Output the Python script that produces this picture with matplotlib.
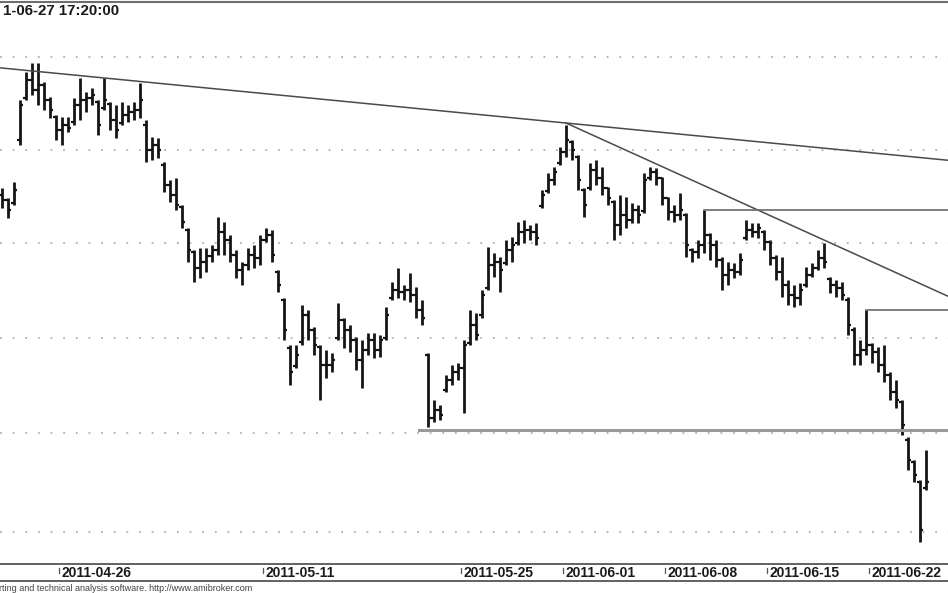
import matplotlib
matplotlib.use("Agg")
import matplotlib.pyplot as plt
from matplotlib.lines import Line2D

# bar data (price units, index = bar number)
opens = [4.05, 4.00, 3.97, 4.60, 5.02, 5.20, 5.10, 5.15, 5.00, 4.83,
         4.70, 4.75, 4.78, 4.95, 5.00, 5.02, 4.98, 4.92, 4.96, 4.80,
         4.77, 4.85, 4.88, 4.90, 4.75, 4.50, 4.55, 4.35, 4.15, 4.05,
         3.93, 3.70, 3.48, 3.32, 3.38, 3.44, 3.50, 3.68, 3.60, 3.45,
         3.30, 3.35, 3.45, 3.42, 3.60, 3.65, 3.28, 3.00, 2.52, 2.34,
         2.58, 2.85, 2.70, 2.53, 2.35, 2.35, 2.62, 2.80, 2.70, 2.60,
         2.40, 2.50, 2.60, 2.50, 2.62, 3.02, 3.10, 3.08, 3.10, 3.05,
         2.90, 2.45, 1.82, 1.90, 2.10, 2.20, 2.28, 2.32, 2.57, 2.75,
         2.85, 3.12, 3.35, 3.38, 3.37, 3.50, 3.57, 3.68, 3.70, 3.68,
         3.94, 4.09, 4.20, 4.37, 4.48, 4.58, 4.43, 4.10, 4.12, 4.30,
         4.22, 4.12, 3.98, 3.75, 3.85, 3.80, 3.90, 3.89, 4.22, 4.28,
         4.22, 4.02, 3.88, 3.85, 3.85, 3.50, 3.48, 3.55, 3.65, 3.55,
         3.40, 3.25, 3.30, 3.28, 3.62, 3.70, 3.68, 3.68, 3.58, 3.42,
         3.28, 3.15, 3.05, 3.02, 3.15, 3.25, 3.32, 3.42, 3.21, 3.15,
         3.12, 3.00, 2.70, 2.45, 2.50, 2.55, 2.48, 2.35, 2.25, 2.08,
         1.98, 1.60, 1.38, 1.18, 1.12]
highs = [4.12, 4.02, 4.18, 5.00, 5.28, 5.37, 5.37, 5.18, 5.03, 4.85,
         4.83, 4.83, 5.02, 5.22, 5.08, 5.12, 5.00, 5.22, 4.98, 4.95,
         4.98, 4.95, 4.98, 5.17, 4.80, 4.63, 4.62, 4.38, 4.20, 4.22,
         3.95, 3.72, 3.50, 3.52, 3.52, 3.55, 3.83, 3.78, 3.65, 3.50,
         3.38, 3.52, 3.55, 3.65, 3.72, 3.70, 3.30, 3.02, 2.55, 2.55,
         2.95, 2.90, 2.73, 2.55, 2.50, 2.47, 2.97, 2.82, 2.75, 2.63,
         2.60, 2.67, 2.67, 2.65, 2.93, 3.18, 3.32, 3.15, 3.27, 3.13,
         3.00, 2.47, 2.00, 1.95, 2.25, 2.35, 2.37, 2.60, 2.90, 2.87,
         3.10, 3.53, 3.47, 3.43, 3.60, 3.63, 3.78, 3.80, 3.75, 3.77,
         4.10, 4.27, 4.33, 4.53, 4.75, 4.60, 4.45, 4.12, 4.37, 4.40,
         4.33, 4.13, 4.00, 4.05, 4.03, 3.97, 3.95, 4.27, 4.33, 4.32,
         4.23, 4.03, 3.95, 4.07, 3.87, 3.52, 3.60, 3.90, 3.67, 3.60,
         3.43, 3.38, 3.37, 3.47, 3.80, 3.77, 3.77, 3.70, 3.60, 3.45,
         3.43, 3.20, 3.15, 3.17, 3.33, 3.37, 3.50, 3.57, 3.23, 3.20,
         3.18, 3.03, 2.73, 2.60, 2.90, 2.57, 2.53, 2.55, 2.28, 2.20,
         2.00, 1.63, 1.40, 1.20, 1.50]
lows = [3.92, 3.82, 3.95, 4.55, 5.00, 5.05, 4.95, 4.90, 4.82, 4.60,
        4.55, 4.68, 4.75, 4.80, 4.88, 4.95, 4.65, 4.90, 4.70, 4.62,
        4.75, 4.78, 4.80, 4.82, 4.38, 4.40, 4.42, 4.08, 3.98, 3.90,
        3.72, 3.38, 3.18, 3.22, 3.28, 3.38, 3.45, 3.45, 3.38, 3.22,
        3.15, 3.30, 3.32, 3.35, 3.58, 3.38, 3.08, 2.60, 2.15, 2.32,
        2.55, 2.60, 2.45, 2.00, 2.22, 2.28, 2.60, 2.52, 2.48, 2.30,
        2.12, 2.45, 2.42, 2.43, 2.60, 3.00, 3.02, 3.00, 2.98, 2.82,
        2.75, 1.73, 1.78, 1.80, 2.08, 2.15, 2.20, 1.87, 2.55, 2.60,
        2.82, 3.10, 3.23, 3.08, 3.35, 3.38, 3.55, 3.57, 3.60, 3.55,
        3.92, 4.07, 4.15, 4.35, 4.43, 4.40, 4.10, 3.83, 4.10, 4.15,
        4.05, 3.95, 3.60, 3.65, 3.72, 3.77, 3.77, 3.87, 4.20, 4.15,
        3.95, 3.80, 3.78, 3.80, 3.43, 3.38, 3.42, 3.47, 3.40, 3.33,
        3.10, 3.15, 3.22, 3.25, 3.60, 3.63, 3.62, 3.50, 3.35, 3.20,
        3.03, 2.95, 2.93, 2.95, 3.13, 3.23, 3.30, 3.32, 3.07, 3.03,
        3.00, 2.65, 2.35, 2.35, 2.45, 2.37, 2.28, 2.18, 2.00, 1.92,
        1.65, 1.30, 1.18, 0.58, 1.10]
closes = [4.00, 3.90, 4.10, 4.95, 5.20, 5.10, 5.15, 5.00, 4.90, 4.70,
          4.75, 4.72, 4.95, 5.00, 5.02, 5.05, 4.75, 5.00, 4.80, 4.70,
          4.85, 4.88, 4.90, 5.00, 4.50, 4.55, 4.50, 4.15, 4.05, 3.95,
          3.78, 3.50, 3.32, 3.38, 3.44, 3.50, 3.68, 3.60, 3.45, 3.30,
          3.35, 3.45, 3.42, 3.60, 3.65, 3.45, 3.15, 2.70, 2.28, 2.45,
          2.85, 2.70, 2.55, 2.35, 2.35, 2.40, 2.80, 2.70, 2.60, 2.40,
          2.50, 2.60, 2.50, 2.60, 2.85, 3.10, 3.08, 3.10, 3.05, 2.90,
          2.82, 1.82, 1.90, 1.85, 2.20, 2.28, 2.32, 2.55, 2.75, 2.65,
          3.05, 3.35, 3.38, 3.30, 3.50, 3.55, 3.68, 3.70, 3.68, 3.62,
          4.05, 4.20, 4.28, 4.48, 4.60, 4.50, 4.20, 3.95, 4.30, 4.22,
          4.12, 4.02, 3.75, 3.85, 3.80, 3.90, 3.85, 4.20, 4.28, 4.22,
          4.02, 3.88, 3.85, 3.90, 3.55, 3.48, 3.55, 3.65, 3.55, 3.40,
          3.25, 3.30, 3.28, 3.40, 3.70, 3.68, 3.72, 3.58, 3.42, 3.28,
          3.15, 3.05, 3.02, 3.10, 3.25, 3.32, 3.42, 3.38, 3.15, 3.12,
          3.05, 2.75, 2.45, 2.50, 2.55, 2.48, 2.35, 2.25, 2.08, 2.00,
          1.75, 1.40, 1.25, 0.70, 1.18]

grid_levels = [5.43, 4.50, 3.57, 2.62, 1.67, 0.68]
date_labels = ["2011-04-26", "2011-05-11", "2011-05-25", "2011-06-01",
               "2011-06-08", "2011-06-15", "2011-06-22"]
date_bars = [10, 44, 77, 94, 111, 128, 145]

# trend lines: (start bar, start price, end bar, end price)
trend_lines = [(0, 5.32, 94, 4.77), (94, 4.77, 137, 3.60)]
# horizontal levels: (start bar, price)
levels = [(117, 3.90), (144, 2.90), (69.5, 1.70)]

fig = plt.figure(figsize=(9.48, 5.93), dpi=100)
ax = fig.add_axes([0, 0.0489, 1, 0.9477])
x_left, x_right = -0.33, 157.67
ax.set_xlim(x_left, x_right)
ax.set_ylim(0.36, 5.98)
ax.set_xticks([])
ax.set_yticks([])
for s in ["left", "right"]:
    ax.spines[s].set_visible(False)
ax.spines["top"].set_color("#6e6e6e")
ax.spines["top"].set_linewidth(1.5)
ax.spines["bottom"].set_color("#555555")
ax.spines["bottom"].set_linewidth(1.3)

for g in grid_levels:
    ax.axhline(g, color="#b0b0b0", lw=1.3, ls=(0, (1, 6)), zorder=1)

# OHLC bars
idx = list(range(len(closes)))
ax.vlines(idx, lows, highs, color="#151515", lw=2.0, zorder=3)
ax.hlines(opens, [i - 0.5 for i in idx], idx, color="#151515", lw=1.6, zorder=3)
ax.hlines(closes, idx, [i + 0.5 for i in idx], color="#151515", lw=1.6, zorder=3)

# trend lines extended to the right edge
for b0, p0, b1, p1 in trend_lines:
    slope = (p1 - p0) / (b1 - b0)
    xs = x_left if b0 == 0 else b0
    ax.plot([xs, x_right], [p0 + slope * (xs - b0), p0 + slope * (x_right - b0)],
            color="#4a4a4a", lw=1.1, zorder=4)

for k, (b0, p) in enumerate(levels):
    if k == 2:
        ax.plot([b0, x_right], [p, p], color="#9a9a9a", lw=2.2, zorder=4)
    else:
        ax.plot([b0, x_right], [p, p], color="#6a6a6a", lw=1.2, zorder=4)

# date strip under the chart
tr = ax.get_xaxis_transform()
for b, lab in zip(date_bars, date_labels):
    ax.plot([b - 0.5, b - 0.5], [-0.007, -0.016], color="#555555", lw=0.9,
            transform=tr, clip_on=False)
    ax.text(b - 0.05, -0.0155, lab, transform=tr, ha="left", va="center",
            fontsize=10, fontweight="bold", family="Liberation Sans", color="#1a1a1a")

fig.add_artist(Line2D([0, 1], [0.0202, 0.0202], color="#555555", lw=1.3,
                      transform=fig.transFigure))

fig.text(0.003, 0.982, "1-06-27 17:20:00", ha="left", va="center",
         fontsize=10.8, fontweight="bold", family="Liberation Sans", color="#1a1a1a")
fig.text(-0.001, 0.008, "rting and technical analysis software. http://www.amibroker.com",
         ha="left", va="center", fontsize=6.5, family="Liberation Sans", color="#444444")

fig.savefig("out.png", dpi=100, facecolor="white")
